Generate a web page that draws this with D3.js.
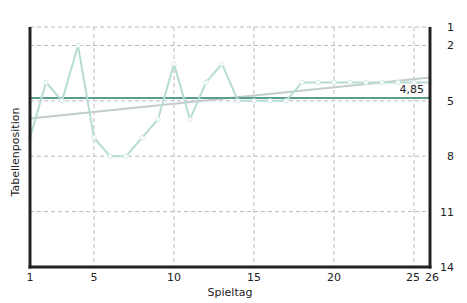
<!DOCTYPE html>
<html>
  <head>
    <meta charset="utf-8">
    <script src="https://cdn.jsdelivr.net/npm/d3@7"></script>
    <style>
      body { margin: 0; background: #fff; }
      text { font-family: "DejaVu Sans", Verdana, sans-serif; font-size: 11px; fill: #222; }
    </style>
  </head>
  <body>
    <script>

    // Tabellenposition pro Spieltag
    var spieltage = d3.range(1, 27);
    var positionen = [7, 4, 5, 2, 7, 8, 8, 7, 6, 3, 6, 4, 3, 5, 5, 5, 5, 4, 4, 4, 4, 4, 4, 4, 4, 4];
    var durchschnitt = 4.85;
    var trend = [5.95, 3.74];   // start / end of trend line (game 1 and 26)
    var xTicks = [1, 5, 10, 15, 20, 25, 26];
    var yTicks = [1, 2, 5, 8, 11, 14];
    var xGrid = [5, 10, 15, 20, 25];
    var yGrid = [1, 2, 5, 8, 11];

    var W = 467, H = 303;
    var margin = {top: 27, right: 37, bottom: 36, left: 30};
    var w = W - margin.left - margin.right;
    var h = H - margin.top - margin.bottom;

    var x = d3.scaleLinear().domain([1, 26]).range([0, w]);
    var y = d3.scaleLinear().domain([1, 14]).range([0, h]);

    var svg = d3.select("body").append("svg")
        .attr("width", W)
        .attr("height", H)
      .append("g")
        .attr("transform", "translate(" + margin.left + "," + margin.top + ")");

    // grid
    svg.selectAll(".vg").data(xGrid).enter().append("line")
      .attr("x1", d => x(d)).attr("x2", d => x(d))
      .attr("y1", 0).attr("y2", h)
      .attr("stroke", "#bbb").attr("stroke-dasharray", "4,3");
    svg.selectAll(".hg").data(yGrid).enter().append("line")
      .attr("x1", 0).attr("x2", w)
      .attr("y1", d => y(d)).attr("y2", d => y(d))
      .attr("stroke", "#bbb").attr("stroke-dasharray", "4,3");

    // trend line
    svg.append("line")
      .attr("x1", x(1)).attr("y1", y(trend[0]))
      .attr("x2", x(26)).attr("y2", y(trend[1]))
      .attr("stroke", "#c3cdcb").attr("stroke-width", 2);

    // average line
    svg.append("line")
      .attr("x1", 0).attr("x2", w)
      .attr("y1", y(durchschnitt)).attr("y2", y(durchschnitt))
      .attr("stroke", "#5b9e90").attr("stroke-width", 2);

    svg.append("text")
      .attr("x", w - 6)
      .attr("y", y(durchschnitt) - 5)
      .attr("text-anchor", "end")
      .text(String(durchschnitt).replace(".", ","));

    // position line
    var line = d3.line()
      .x((d, i) => x(spieltage[i]))
      .y(d => y(d));

    svg.append("path")
      .datum(positionen)
      .attr("fill", "none")
      .attr("stroke", "#b6dcd4")
      .attr("stroke-width", 2)
      .attr("d", line);

    svg.selectAll(".pt").data(positionen).enter().append("circle")
      .attr("cx", (d, i) => x(spieltage[i]))
      .attr("cy", d => y(d))
      .attr("r", 2.2)
      .attr("fill", "#fff")
      .attr("stroke", "#d6ebe7")
      .attr("stroke-width", 1);

    // axes
    svg.append("line").attr("x1", 0).attr("x2", 0).attr("y1", 0).attr("y2", h + 1.5)
      .attr("stroke", "#222").attr("stroke-width", 3);
    svg.append("line").attr("x1", w).attr("x2", w).attr("y1", 0).attr("y2", h + 1.5)
      .attr("stroke", "#222").attr("stroke-width", 3);
    svg.append("line").attr("x1", -1.5).attr("x2", w + 1.5).attr("y1", h).attr("y2", h)
      .attr("stroke", "#222").attr("stroke-width", 3);

    // tick labels
    svg.selectAll(".xt").data(xTicks).enter().append("text")
      .attr("x", d => x(d) + (d == 25 ? -1 : d == 26 ? 2 : 0))
      .attr("y", h + 14)
      .attr("text-anchor", "middle")
      .text(d => d);
    svg.selectAll(".yt").data(yTicks).enter().append("text")
      .attr("x", w + 24)
      .attr("y", d => y(d) + 4)
      .attr("text-anchor", "end")
      .text(d => d);

    // axis labels
    svg.append("text")
      .attr("text-anchor", "middle")
      .attr("transform", `translate(${w / 2}, ${h + 29})`)
      .text("Spieltag");
    svg.append("text")
      .attr("text-anchor", "middle")
      .attr("transform", `translate(-11, ${h / 2 + 5})rotate(-90)`)
      .text("Tabellenposition");
    </script>
  </body>
</html>
